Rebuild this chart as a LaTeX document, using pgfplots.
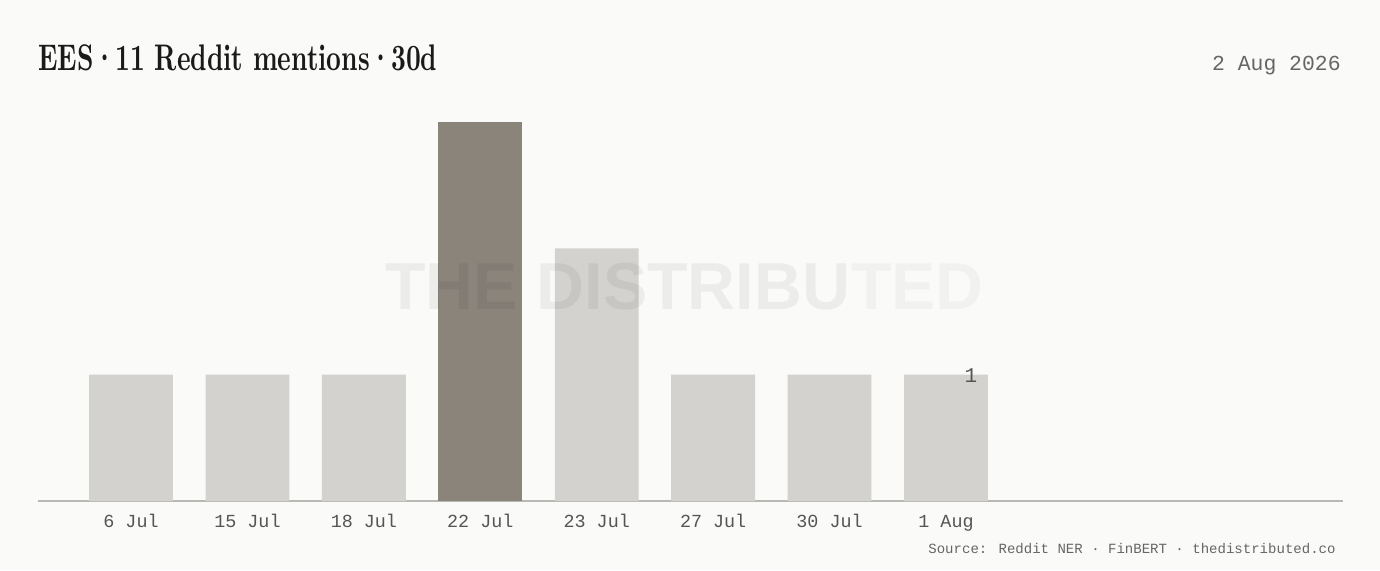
\documentclass[border=0pt]{standalone}
\usepackage{pgfplots}
\pgfplotsset{compat=1.18}
\usepackage{fontspec}
\newfontfamily\mono{Liberation Mono}
\newfontfamily\wmfont{Liberation Sans}
\definecolor{bgcol}{RGB}{250,250,248}
\definecolor{barlight}{RGB}{211,210,206}
\definecolor{bardark}{RGB}{138,132,123}
\definecolor{axisgray}{RGB}{184,184,181}
\definecolor{tickgray}{RGB}{85,85,85}
\definecolor{dategray}{RGB}{102,102,102}
\definecolor{titlecol}{RGB}{26,26,26}
\newcommand{\tdot}{\kern-0.03em·\kern-0.03em}
\begin{document}
\begin{tikzpicture}
\fill[bgcol] (0,0) rectangle (690pt,285pt);
\begin{axis}[
  at={(19pt,34.5pt)}, anchor=south west,
  scale only axis, width=652.5pt, height=189.5pt,
  xmin=-0.799, xmax=10.41, ymin=0, ymax=3,
  axis x line*=bottom, axis y line=none,
  axis line style={-, axisgray, line width=0.8pt},
  xtick={0,1,2,3,4,5,6,7},
  xticklabels={6 Jul,15 Jul,18 Jul,22 Jul,23 Jul,27 Jul,30 Jul,1 Aug},
  major tick length=0pt,
  xticklabel style={font=\mono\fontsize{9.2}{10}\selectfont, text=tickgray, anchor=base, yshift=-13.2pt, inner sep=0pt},
  ytick=\empty,
  clip=false,
]
\addplot[ybar, bar width=0.72, bar shift=0pt, fill=barlight, draw=none]
  coordinates {(0,1) (1,1) (2,1) (4,2) (5,1) (6,1) (7,1)};
\addplot[ybar, bar width=0.72, bar shift=0pt, fill=bardark, draw=none]
  coordinates {(3,3)};
\node[font=\mono\fontsize{10.5}{12}\selectfont, text=tickgray] at (axis cs:7.215,0.995) {1};
\end{axis}
\node[anchor=base west, inner sep=0pt, text=black, opacity=0.055, font=\wmfont\bfseries\fontsize{33.2}{36}\selectfont] (wm) at (192.5pt,130.5pt) {THE DISTRIBU};
\node[anchor=base west, inner sep=0pt, text=black, opacity=0.035, font=\wmfont\bfseries\fontsize{33.2}{36}\selectfont] at (wm.base east) {TED};
\node[anchor=base west, inner sep=0pt, text=titlecol] at (19pt,249.7pt) {\resizebox{199.5pt}{12.9pt}{\bfseries EES\tdot 11 Reddit mentions\tdot 30d}};
\node[anchor=base east, inner sep=0pt, text=dategray, font=\mono\fontsize{10.7}{12}\selectfont] at (670.5pt,250pt) {2 Aug 2026};
\node[anchor=base east, inner sep=0pt, text=dategray, font=\mono\fontsize{7.02}{8}\selectfont] at (668pt,8.5pt) {Source: Reddit NER · FinBERT · thedistributed.co};
\end{tikzpicture}
\end{document}
